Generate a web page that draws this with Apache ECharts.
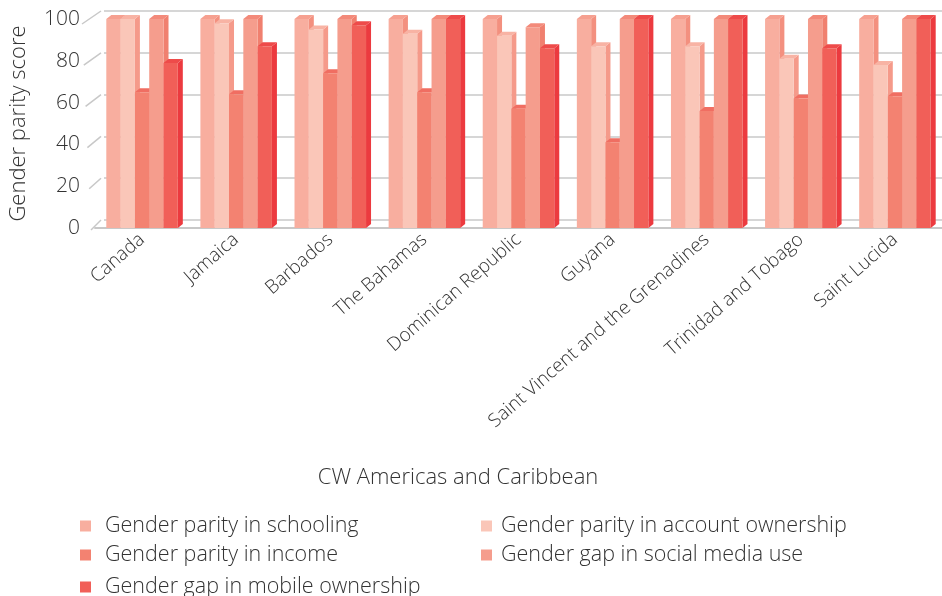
<!DOCTYPE html>
<html>
<head>
<meta charset="utf-8">
<script src="https://cdn.jsdelivr.net/npm/echarts@6/dist/echarts.min.js"></script>
<style>html,body{margin:0;padding:0;background:#fff;}#c{width:942px;height:596px;}</style>
</head>
<body>
<div id="c"></div>
<script>
const categories = ['Canada','Jamaica','Barbados','The Bahamas','Dominican Republic','Guyana','Saint Vincent and the Grenadines','Trinidad and Tobago','Saint Lucida'];
const seriesNames = ['Gender parity in schooling','Gender parity in account ownership','Gender parity in income','Gender gap in social media use','Gender gap in mobile ownership'];
const schooling = [100,100,100,100,100,100,100,100,100];
const account   = [100,98,95,93,92,87,87,81,78];
const income    = [65,64,74,65,57,41,56,62,63];
const social    = [100,100,100,100,96,100,100,100,100];
const mobile    = [79,87,97,100,86,100,100,86,100];
const yTicks = [0,20,40,60,80,100];

const values = [schooling, account, income, social, mobile];
const faces = [
  {front:'#F8AE9F', top:'#F6A090', side:'#F3907F'},
  {front:'#FAC6B8', top:'#F8B3A4', side:'#F59A8A'},
  {front:'#F38271', top:'#F06E62', side:'#EE6A5F'},
  {front:'#F59D8D', top:'#F38A7A', side:'#F0806F'},
  {front:'#F15F58', top:'#EE4B4A', side:'#EC3A3F'}
];
const FONT = '"Open Sans"';
const TXT = '#333';
const DX = 5, DY = 4;

function makeRender(s) {
  return function (params, api) {
    const idx = api.value(0), v = api.value(1);
    const base = api.coord([idx, 0]);
    const top = api.coord([idx, v]);
    const band = api.size([1, 0])[0];
    const bw = band * 0.152;
    const x0 = base[0] - 2.5 * bw + s * bw;
    const x1 = x0 + bw;
    const yt = top[1], yb = base[1];
    const f = faces[s];
    return {
      type: 'group',
      children: [
        {type:'polygon', shape:{points:[[x1,yb],[x1,yt],[x1+DX,yt-DY],[x1+DX,yb-DY]]}, style:{fill:f.side}},
        {type:'polygon', shape:{points:[[x0,yt],[x1,yt],[x1+DX,yt-DY],[x0+DX,yt-DY]]}, style:{fill:f.top}},
        {type:'rect', shape:{x:x0, y:yt, width:bw, height:yb-yt}, style:{fill:f.front}}
      ]
    };
  };
}

const series = values.map((arr, s) => ({
  type: 'custom',
  name: seriesNames[s],
  xAxisIndex: 0, yAxisIndex: 0,
  itemStyle: {color: faces[s].front},
  renderItem: makeRender(s),
  encode: {x: 0, y: 1},
  data: arr.map((v, i) => [i, v]),
  z: 3
}));

// left wall diagonals (slight perspective)
series.push({
  type: 'custom',
  xAxisIndex: 0, yAxisIndex: 0,
  silent: true,
  renderItem: function (params, api) {
    const v = api.value(1);
    const t = v / 100;
    const p = api.coord([0, v]);
    const x = params.coordSys.x;
    return {type:'line', shape:{x1:x - 4 - 9 * t, y1:p[1] + 2 + 3 * t, x2:x + 6, y2:p[1] - 8}, style:{stroke:'#c8c8c8', lineWidth:1.5}};
  },
  data: yTicks.map(v => [0, v]),
  z: 1
});

function leg(name, left, top, pad) {
  return {left: left, top: top, padding: 0, orient:'horizontal', itemWidth: 11, itemHeight: 11, icon:'rect',
    textStyle:{fontSize:21.5, color:TXT, fontFamily:FONT, fontWeight:300, padding:[0,0,0,pad]},
    data: [name]};
}

const option = {
  animation: false,
  backgroundColor: '#fff',
  textStyle: {fontFamily: FONT},
  grid: [
    {left: 94, top: 19, width: 850, height: 209},
    {left: 104, top: 11, width: 850, height: 209}
  ],
  xAxis: [
    {type:'category', gridIndex:0, data: categories,
     axisLine:{lineStyle:{color:'#c8c8c8', width:2}}, axisTick:{show:false},
     axisLabel:{rotate:41, interval:0, fontSize:19, color:TXT, fontFamily:FONT, fontWeight:300, margin:9}},
    {type:'category', gridIndex:1, data: categories, show:false}
  ],
  yAxis: [
    {type:'value', gridIndex:0, min:0, max:100, interval:20,
     name:'Gender parity score', nameLocation:'middle', nameGap:65, nameRotate:90,
     nameTextStyle:{fontSize:22, color:TXT, fontFamily:FONT, fontWeight:300},
     axisLine:{show:false}, axisTick:{show:false}, splitLine:{show:false},
     axisLabel:{fontSize:21, color:TXT, fontFamily:FONT, fontWeight:300, margin:15}},
    {type:'value', gridIndex:1, min:0, max:100, interval:20,
     axisLine:{show:false}, axisTick:{show:false}, axisLabel:{show:false},
     splitLine:{show:true, lineStyle:{color:'#c8c8c8', width:1.5}}}
  ],
  legend: [
    leg(seriesNames[0], 80, 515, 9),
    leg(seriesNames[1], 481, 515, 4),
    leg(seriesNames[2], 80, 544, 9),
    leg(seriesNames[3], 481, 544, 4),
    leg(seriesNames[4], 80, 576, 9)
  ],
  graphic: [
    {type:'text', x: 458, y: 478, style:{text:'CW Americas and Caribbean', fontSize:22, fill:TXT, fontFamily:FONT, fontWeight:300, align:'center', verticalAlign:'middle'}}
  ],
  series: series
};
const chart = echarts.init(document.getElementById('c'), null, {renderer:'canvas'});
chart.setOption(option);
</script>
</body>
</html>
